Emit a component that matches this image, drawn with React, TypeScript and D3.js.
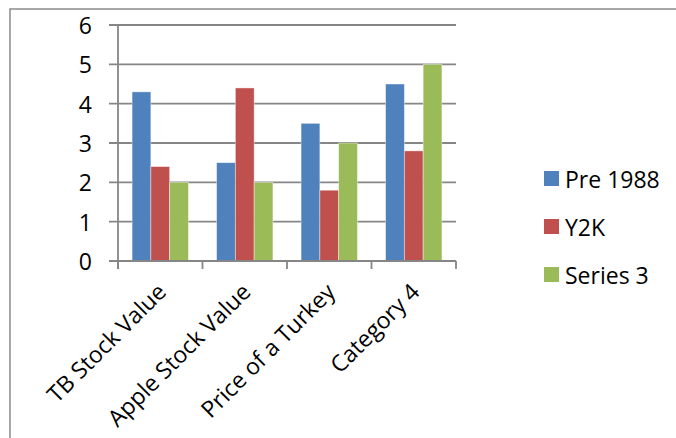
import React from "react";
import * as d3 from "d3";

const categories = ["TB Stock Value", "Apple Stock Value", "Price of a Turkey", "Category 4"];
const seriesNames = ["Pre 1988", "Y2K", "Series 3"];
const pre1988 = [4.3, 2.5, 3.5, 4.5];
const y2k = [2.4, 4.4, 1.8, 2.8];
const series3 = [2, 2, 3, 5];
const yTicks = [0, 1, 2, 3, 4, 5, 6];
const colors = ["#4F81BD", "#C0504D", "#9BBB59"];

const W = 676;
const H = 438;
const plot = { left: 118, right: 456, top: 25, bottom: 261 };
const FONT = "'Open Sans', 'Noto Sans', sans-serif";
const GRAY = "#868686";

export default function App() {
  const seriesValues = [pre1988, y2k, series3];
  const x = d3.scaleBand().domain(categories).range([plot.left, plot.right]).paddingInner(0).paddingOuter(0);
  const bw = x.bandwidth();
  const barW = bw / (3 + 1.5);
  const gap = (bw - 3 * barW) / 2;
  const y = d3.scaleLinear().domain([0, 6]).range([plot.bottom, plot.top]);

  const xTickPos = categories.map((c) => x(c) as number).concat([plot.right]);

  return (
    <svg width={W} height={H} style={{ position: "absolute", left: 0, top: 0, background: "#fff" }}>
      <rect x={0} y={0} width={W} height={H} fill="#fff" />
      {/* outer chart border */}
      <path d={`M10,${H + 2} V9 H${W + 2}`} fill="none" stroke="#8a8a8a" strokeWidth={1.5} />
      {/* gridlines + y ticks */}
      {yTicks.map((t) => (
        <g key={t}>
          <line x1={plot.left - 9} x2={plot.right} y1={y(t)} y2={y(t)} stroke={GRAY} strokeWidth={1.8} />
          <text
            x={92}
            y={y(t)}
            textAnchor="end"
            dominantBaseline="central"
            fontFamily={FONT}
            fontSize={23}
            fill="#000"
          >
            {t}
          </text>
        </g>
      ))}
      {/* bars */}
      {categories.map((c, ci) =>
        seriesValues.map((vals, si) => (
          <rect
            key={c + si}
            x={(x(c) as number) + gap + si * barW}
            y={y(vals[ci])}
            width={barW}
            height={y(0) - y(vals[ci])}
            fill={colors[si]}
            stroke="#ffffff"
            strokeOpacity={0.5}
            strokeWidth={0.8}
          />
        ))
      )}
      {/* y axis */}
      <line x1={plot.left} x2={plot.left} y1={plot.top} y2={plot.bottom + 8} stroke={GRAY} strokeWidth={1.8} />
      {/* x axis */}
      <line x1={plot.left - 9} x2={plot.right} y1={plot.bottom} y2={plot.bottom} stroke={GRAY} strokeWidth={1.8} />
      {xTickPos.map((p, i) => (
        <line key={i} x1={p} x2={p} y1={plot.bottom} y2={plot.bottom + 8} stroke={GRAY} strokeWidth={1.8} />
      ))}
      {/* x labels */}
      {categories.map((c) => {
        const cx = (x(c) as number) + bw / 2 + 1;
        const cy = 287;
        return (
          <text
            key={c}
            x={cx}
            y={cy}
            transform={`rotate(-45 ${cx} ${cy})`}
            textAnchor="end"
            dominantBaseline="central"
            fontFamily={FONT}
            fontSize={23}
            fill="#000"
          >
            {c}
          </text>
        );
      })}
      {/* legend */}
      {seriesNames.map((s, i) => {
        const ly = 178.5 + i * 48;
        return (
          <g key={s}>
            <rect x={544} y={ly - 7.5} width={15} height={15} fill={colors[i]} />
            <text x={565} y={ly} dominantBaseline="central" fontFamily={FONT} fontSize={23} fill="#000">
              {s}
            </text>
          </g>
        );
      })}
    </svg>
  );
}
